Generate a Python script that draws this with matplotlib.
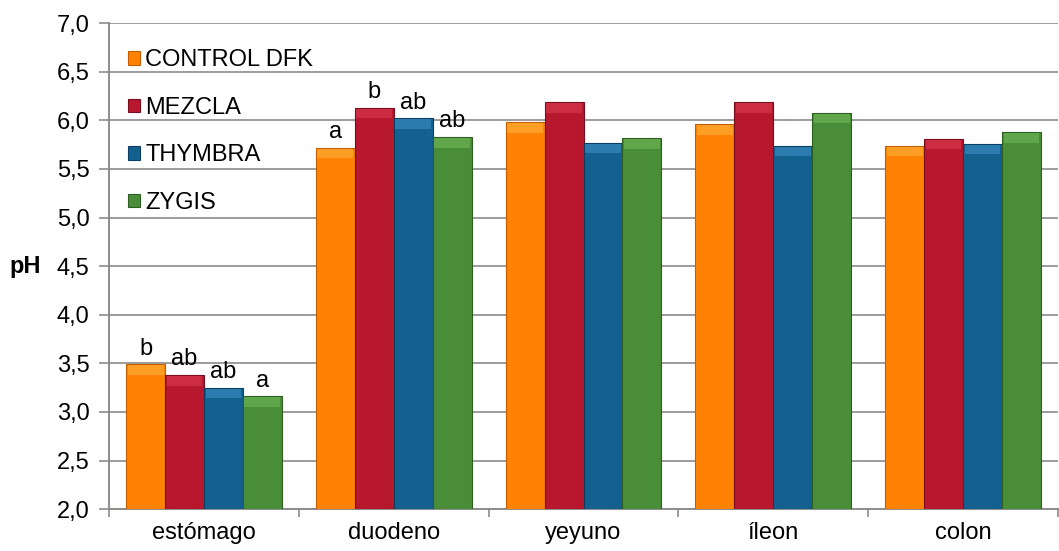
import numpy as np
import matplotlib
matplotlib.use("Agg")
import matplotlib.pyplot as plt

plt.rcParams['font.family'] = ['Liberation Sans', 'DejaVu Sans']

# data
sections = ["estómago", "duodeno", "yeyuno", "íleon", "colon"]
series = ["CONTROL DFK", "MEZCLA", "THYMBRA", "ZYGIS"]
control = [3.49, 5.72, 5.98, 5.96, 5.74]
mezcla = [3.38, 6.13, 6.19, 6.19, 5.81]
thymbra = [3.25, 6.02, 5.77, 5.74, 5.76]
zygis = [3.16, 5.83, 5.82, 6.08, 5.88]
# significance letters (only estómago and duodeno carry them)
letters = [["b", "a", "", "", ""],
           ["ab", "b", "", "", ""],
           ["ab", "ab", "", "", ""],
           ["a", "ab", "", "", ""]]

colors = ["#FF8205", "#B8182E", "#14608F", "#4A8D38"]
edges = ["#C45E00", "#7A0E1E", "#0B3F60", "#2E5E22"]
tops = ["#FFC24A", "#E8485E", "#4AA0D8", "#7CC766"]

fs = 17
fig = plt.figure(figsize=(10.59, 5.51), dpi=100)
ax = fig.add_axes([0.103, 0.076, 0.896, 0.882])

x = np.arange(len(sections))
w = 0.205
vals = [control, mezcla, thymbra, zygis]
for i, v in enumerate(vals):
    pos = x + (i - 1.5) * w
    v = np.array(v)
    ax.bar(pos, v - 2.0, w, bottom=2.0, color=colors[i], edgecolor=edges[i],
           linewidth=0.8, label=series[i], zorder=3)
    # light bevel at top of each bar
    ax.bar(pos, 0.1, w * 0.92, bottom=v - 0.11, color=tops[i],
           linewidth=0, alpha=0.45, zorder=4)
    for j in range(len(sections)):
        if letters[i][j]:
            ax.annotate(letters[i][j], (pos[j], v[j]), xytext=(0, 7),
                        textcoords="offset points", ha="center",
                        va="baseline", fontsize=fs)

ax.set_ylim(2.0, 7.0)
ax.set_xlim(-0.5, len(sections) - 0.5)
ax.set_yticks(np.arange(2.0, 7.01, 0.5))
ax.set_yticklabels([f"{t:.1f}".replace(".", ",") for t in np.arange(2.0, 7.01, 0.5)])
ax.set_xticks(x)
ax.set_xticklabels(sections)
ax.set_xticks(np.arange(-0.5, len(sections)), minor=True)
ax.tick_params(axis="x", which="major", length=0, labelsize=fs, pad=9)
ax.tick_params(axis="x", which="minor", length=6, color="#8C8C8C", width=1.2)
ax.tick_params(axis="y", length=7, color="#8C8C8C", width=1.2, labelsize=fs, pad=7)

ax.grid(axis="y", color="#9C9C9C", linewidth=1.4, zorder=0)
ax.set_axisbelow(True)
for s in ["top", "right"]:
    ax.spines[s].set_visible(False)
for s in ["left", "bottom"]:
    ax.spines[s].set_color("#8C8C8C")
    ax.spines[s].set_linewidth(1.4)

ax.set_ylabel("pH", fontweight="bold", fontsize=fs, rotation=0, va="center")
ax.yaxis.set_label_coords(-0.088, 0.5)

leg = ax.legend(loc="upper left", bbox_to_anchor=(-0.002, 0.99), frameon=False,
                fontsize=fs, handlelength=0.5, handleheight=0.5,
                handletextpad=0.22, labelspacing=1.08, borderaxespad=0.5)

fig.savefig("out.png", dpi=100)
